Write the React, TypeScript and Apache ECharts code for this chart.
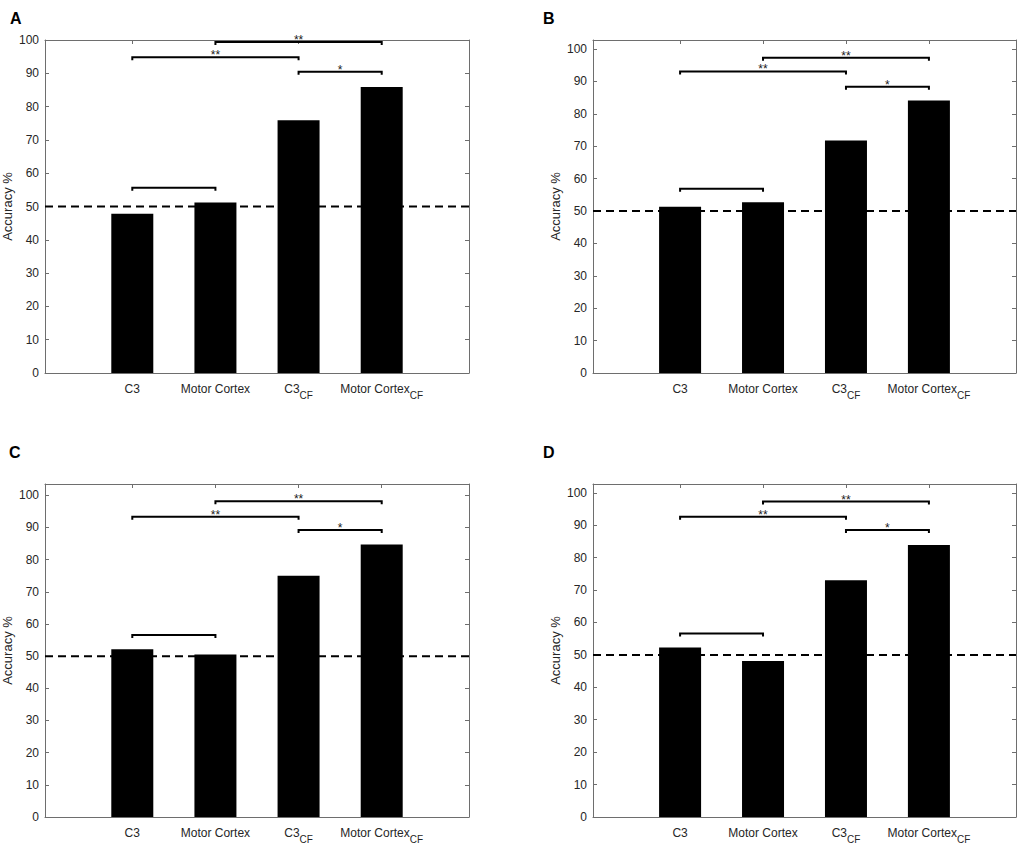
import React, { useEffect, useRef } from 'react';
import * as echarts from 'echarts';

// ---------- data ----------
const categoryNames = ['C3', 'Motor Cortex', 'C3', 'Motor Cortex'];
const categorySubs = ['', '', 'CF', 'CF'];
const categoryPositions = [1, 2, 3, 4];
const panelLetters = ['A', 'B', 'C', 'D'];

const accuracyA = [47.8, 51.2, 75.9, 85.9];
const accuracyB = [51.3, 52.7, 71.8, 84.1];
const accuracyC = [52.1, 50.5, 75.0, 84.7];
const accuracyD = [52.3, 48.1, 73.0, 83.9];

const yMaxValues = [100, 102.8, 103.5, 102.7];
const yTickValues = [0, 10, 20, 30, 40, 50, 60, 70, 80, 90, 100];
const chanceLevel = 50;

const bracketPairs = [[1, 2], [1, 3], [2, 4], [3, 4]];
const bracketLabels = ['', '**', '**', '*'];
const bracketA = [55.6, 94.8, 99.4, 90.5];
const bracketB = [56.9, 93.1, 97.3, 88.4];
const bracketC = [56.6, 93.3, 98.1, 89.2];
const bracketD = [56.6, 92.6, 97.3, 88.5];

const xRange = [-0.05, 5.05];

const accuracies = [accuracyA, accuracyB, accuracyC, accuracyD];
const brackets = [bracketA, bracketB, bracketC, bracketD];

// ---------- layout / style ----------
const FONT = "'Liberation Sans', Arial, Helvetica, sans-serif";
const TEXT = '#262626';
const AXIS = '#6e6e6e';
const gridRects = [
  { left: 45, top: 40, width: 424, height: 333 },
  { left: 593, top: 40, width: 423, height: 333 },
  { left: 45, top: 484, width: 424, height: 333 },
  { left: 593, top: 484, width: 423, height: 333 },
];
const letterPos = [
  [10, 18],
  [543, 18],
  [9, 452],
  [543, 452],
];

function buildOption() {
  const grid: any[] = [];
  const xAxis: any[] = [];
  const yAxis: any[] = [];
  const series: any[] = [];
  const graphic: any[] = [];

  for (let i = 0; i < 4; i++) {
    const r = gridRects[i];
    grid.push({ ...r, containLabel: false, outerBoundsMode: 'none', show: false });

    const lineStyle = { color: AXIS, width: 1 };
    // bottom x axis
    xAxis.push({
      type: 'value',
      gridIndex: i,
      position: 'bottom',
      min: xRange[0],
      max: xRange[1],
      axisLine: { show: true, onZero: false, lineStyle },
      axisTick: { show: true, inside: true, length: 4, customValues: categoryPositions, lineStyle },
      splitLine: { show: false },
      axisLabel: {
        show: true,
        customValues: categoryPositions,
        margin: 10,
        color: TEXT,
        fontFamily: FONT,
        fontSize: 12,
        formatter: (v: number) => {
          const idx = Math.round(v) - 1;
          const name = categoryNames[idx];
          const sub = categorySubs[idx];
          if (name === undefined) return '';
          return sub ? `{n|${name}}{s|${sub}}` : `{n|${name}}`;
        },
        rich: {
          n: { fontSize: 12, lineHeight: 14, verticalAlign: 'top', color: TEXT, fontFamily: FONT },
          s: { fontSize: 10, lineHeight: 17, verticalAlign: 'bottom', color: TEXT, fontFamily: FONT },
        },
      },
    });
    // top x axis (box + ticks)
    xAxis.push({
      type: 'value',
      gridIndex: i,
      position: 'top',
      min: xRange[0],
      max: xRange[1],
      axisLine: { show: true, onZero: false, lineStyle },
      axisTick: { show: true, inside: true, length: 4, customValues: categoryPositions, lineStyle },
      splitLine: { show: false },
      axisLabel: { show: false },
    });
    // left y axis
    yAxis.push({
      type: 'value',
      gridIndex: i,
      position: 'left',
      min: 0,
      max: yMaxValues[i],
      name: 'Accuracy %',
      nameLocation: 'middle',
      nameGap: 31,
      nameRotate: 90,
      nameTextStyle: { color: TEXT, fontFamily: FONT, fontSize: 13 },
      axisLine: { show: true, onZero: false, lineStyle },
      axisTick: { show: true, inside: true, length: 4, customValues: yTickValues, lineStyle },
      splitLine: { show: false },
      axisLabel: {
        show: true,
        customValues: yTickValues,
        margin: 6,
        color: TEXT,
        fontFamily: FONT,
        fontSize: 12,
      },
    });
    // right y axis
    yAxis.push({
      type: 'value',
      gridIndex: i,
      position: 'right',
      min: 0,
      max: yMaxValues[i],
      axisLine: { show: true, onZero: false, lineStyle },
      axisTick: { show: true, inside: true, length: 4, customValues: yTickValues, lineStyle },
      splitLine: { show: false },
      axisLabel: { show: false },
    });

    const acc = accuracies[i];
    series.push({
      type: 'bar',
      xAxisIndex: 2 * i,
      yAxisIndex: 2 * i,
      barWidth: 42,
      itemStyle: { color: '#000' },
      data: categoryPositions.map((x, k) => [x, acc[k]]),
      silent: true,
    });
    series.push({
      type: 'line',
      xAxisIndex: 2 * i,
      yAxisIndex: 2 * i,
      symbol: 'none',
      silent: true,
      z: 3,
      lineStyle: { color: '#000', width: 2, type: [8, 5] },
      data: [[xRange[0], chanceLevel], [xRange[1], chanceLevel]],
    });
    const br = brackets[i];
    series.push({
      type: 'custom',
      xAxisIndex: 2 * i,
      yAxisIndex: 2 * i,
      clip: false,
      silent: true,
      z: 4,
      encode: { x: [0, 1], y: 2 },
      data: bracketPairs.map((p, k) => [p[0], p[1], br[k]]),
      renderItem: (params: any, api: any) => {
        const a = api.coord([api.value(0), api.value(2)]);
        const b = api.coord([api.value(1), api.value(2)]);
        const drop = 3;
        const label = bracketLabels[params.dataIndex];
        const children: any[] = [
          {
            type: 'polyline',
            shape: {
              points: [
                [a[0], a[1] + drop],
                [a[0], a[1]],
                [b[0], b[1]],
                [b[0], b[1] + drop],
              ],
            },
            style: { stroke: '#000', lineWidth: 2, fill: 'none' },
          },
        ];
        if (label) {
          children.push({
            type: 'text',
            x: (a[0] + b[0]) / 2,
            y: a[1] - 2,
            style: {
              text: label,
              fill: '#1a1a1a',
              fontSize: 12,
              fontFamily: FONT,
              align: 'center',
              verticalAlign: 'middle',
            },
          });
        }
        return { type: 'group', children };
      },
    });

    graphic.push({
      type: 'text',
      x: letterPos[i][0],
      y: letterPos[i][1],
      style: {
        text: panelLetters[i],
        fill: '#000',
        fontSize: 16,
        fontWeight: 'bold',
        fontFamily: FONT,
        align: 'left',
        verticalAlign: 'middle',
      },
    });
  }

  return {
    animation: false,
    backgroundColor: '#fff',
    textStyle: { fontFamily: FONT },
    grid,
    xAxis,
    yAxis,
    series,
    graphic,
  };
}

export default function App() {
  const ref = useRef<HTMLDivElement>(null);
  useEffect(() => {
    if (!ref.current) return;
    const chart = echarts.init(ref.current, undefined, { renderer: 'svg' });
    chart.setOption(buildOption() as any);
    return () => chart.dispose();
  }, []);
  return (
    <div
      ref={ref}
      style={{ position: 'absolute', left: 0, top: 0, width: 1021, height: 855, background: '#fff' }}
    />
  );
}
